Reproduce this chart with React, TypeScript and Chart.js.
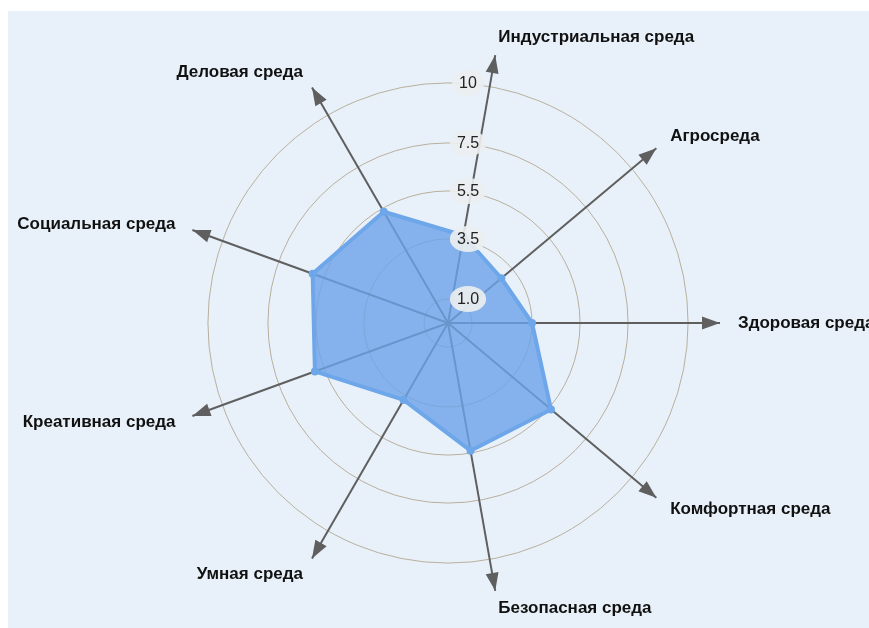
import React, { useEffect, useRef } from "react";
import { Chart, registerables } from "chart.js";

Chart.register(...registerables);

const categories = [
  "Индустриальная среда",
  "Агросреда",
  "Здоровая среда",
  "Комфортная среда",
  "Безопасная среда",
  "Умная среда",
  "Креативная среда",
  "Социальная среда",
  "Деловая среда",
];
const values = [3.7, 2.9, 3.5, 5.6, 5.4, 3.7, 5.9, 6.0, 5.35];
const tickValues = [1.0, 3.5, 5.5, 7.5, 10];
const tickLabels = ["1.0", "3.5", "5.5", "7.5", "10"];
const axisMax = 11.33;

const overlayPlugin = {
  id: "overlay",
  afterDatasetsDraw(chart: any) {
    const s = chart.scales.r;
    const ctx = chart.ctx as CanvasRenderingContext2D;
    const n = chart.data.labels.length;
    ctx.save();
    // arrowheads
    ctx.fillStyle = "#5f5f5f";
    for (let i = 0; i < n; i++) {
      const tip = s.getPointPosition(i, s.drawingArea);
      const c = Math.cos(tip.angle);
      const sn = Math.sin(tip.angle);
      const len = 18;
      const hw = 6.5;
      const bx = tip.x - c * len;
      const by = tip.y - sn * len;
      ctx.beginPath();
      ctx.moveTo(tip.x, tip.y);
      ctx.lineTo(bx - sn * hw, by + c * hw);
      ctx.lineTo(bx + sn * hw, by - c * hw);
      ctx.closePath();
      ctx.fill();
    }
    // tick labels
    ctx.font = "16px 'Liberation Sans', Arial, sans-serif";
    ctx.textAlign = "center";
    ctx.textBaseline = "middle";
    tickValues.forEach((v, k) => {
      const r = s.getDistanceFromCenterForValue(v);
      const x = s.xCenter + 20;
      const y = s.yCenter - r;
      const w = ctx.measureText(tickLabels[k]).width;
      ctx.fillStyle = "rgba(236,238,240,0.9)";
      ctx.beginPath();
      ctx.ellipse(x, y, w / 2 + 7, 13, 0, 0, Math.PI * 2);
      ctx.fill();
      ctx.fillStyle = "#222222";
      ctx.fillText(tickLabels[k], x, y + 1);
    });
    // point labels
    ctx.font = "bold 17px 'Liberation Sans', Arial, sans-serif";
    ctx.fillStyle = "#111111";
    for (let i = 0; i < n; i++) {
      const p = s.getPointPosition(i, s.drawingArea + 18);
      let align: CanvasTextAlign = "center";
      if (p.x > s.xCenter + 1) align = "left";
      else if (p.x < s.xCenter - 1) align = "right";
      ctx.textAlign = align;
      ctx.fillText(chart.data.labels[i], p.x, p.y);
    }
    ctx.restore();
  },
};

export default function App() {
  const canvasRef = useRef<HTMLCanvasElement | null>(null);

  useEffect(() => {
    if (!canvasRef.current) return;
    const chart = new Chart(canvasRef.current, {
      type: "radar",
      data: {
        labels: categories,
        datasets: [
          {
            data: values,
            backgroundColor: "rgba(108,163,232,0.8)",
            borderColor: "#6ea6ea",
            borderWidth: 4,
            borderJoinStyle: "round",
            pointRadius: 4,
            pointBackgroundColor: "#6ea6ea",
            pointBorderColor: "#6ea6ea",
            pointBorderWidth: 0,
            fill: true,
          },
        ],
      },
      options: {
        responsive: false,
        animation: false,
        layout: { padding: { left: 176, right: 149, top: 51, bottom: 33 } },
        plugins: { legend: { display: false }, tooltip: { enabled: false } },
        scales: {
          r: {
            min: 0,
            max: axisMax,
            startAngle: 10,
            afterBuildTicks: (sc: any) => {
              sc.ticks = [0, ...tickValues].map((v) => ({ value: v }));
            },
            ticks: { display: false },
            pointLabels: { display: false },
            grid: { circular: true, color: "#b8af9c", lineWidth: 1 },
            angleLines: { color: "#5f5f5f", lineWidth: 2 },
          },
        },
      },
      plugins: [overlayPlugin],
    } as any);
    return () => chart.destroy();
  }, []);

  return (
    <div style={{ position: "fixed", left: 0, top: 0, width: 869, height: 628, background: "#ffffff", overflow: "hidden" }}>
      <div style={{ position: "absolute", left: 8, top: 11, right: 0, bottom: 0, background: "#e8f1f9" }} />
      <canvas ref={canvasRef} width={869} height={628} style={{ position: "absolute", left: 0, top: 0, display: "block" }} />
    </div>
  );
}
